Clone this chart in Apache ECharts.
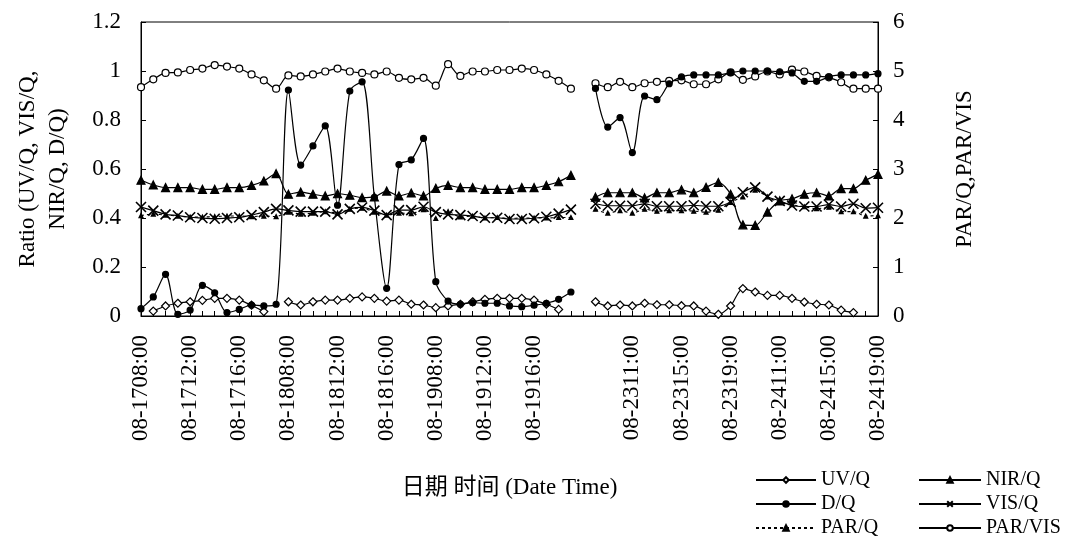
<!DOCTYPE html>
<html><head><meta charset="utf-8">
<script src="https://cdn.jsdelivr.net/npm/echarts@6/dist/echarts.min.js"></script>
<style>html,body{margin:0;padding:0;background:#fff}#c{width:1067px;height:547px}</style>
</head><body><div id="c"></div>
<script>
const days = ['08-17', '08-18', '08-19', '', '08-23', '08-24'];
const hours = ['08:00','09:00','10:00','11:00','12:00','13:00','14:00','15:00','16:00','17:00','18:00','19:00'];

const uvQ = [null,0.020,0.041,0.052,0.058,0.064,0.072,0.072,0.065,0.044,0.018,null,
  0.058,0.045,0.058,0.065,0.065,0.072,0.078,0.072,0.061,0.065,0.048,0.045,
  0.034,0.041,0.048,0.058,0.068,0.072,0.072,0.072,0.065,0.048,0.027,null,
  null,
  0.058,0.041,0.045,0.041,0.052,0.046,0.046,0.042,0.041,0.020,0.007,0.041,
  0.112,0.098,0.084,0.084,0.072,0.057,0.048,0.045,0.024,0.014,null,null];

const dQ = [0.030,0.078,0.170,0.007,0.024,0.125,0.095,0.014,0.027,0.045,0.041,0.048,
  0.922,0.616,0.694,0.776,0.452,0.918,0.956,0.484,0.113,0.618,0.637,0.725,
  0.140,0.061,0.048,0.054,0.052,0.052,0.041,0.038,0.044,0.052,0.068,0.098,
  null,
  0.929,0.771,0.810,0.667,0.898,0.883,0.948,0.976,0.984,0.984,0.984,0.993,
  1.000,1.000,1.000,0.997,0.992,0.958,0.958,0.976,0.984,0.984,0.984,0.989];

const nirQ = [0.554,0.535,0.524,0.524,0.524,0.517,0.517,0.524,0.524,0.533,0.551,0.581,
  0.497,0.506,0.497,0.490,0.499,0.493,0.483,0.486,0.510,0.490,0.502,0.490,
  0.521,0.533,0.524,0.524,0.517,0.517,0.517,0.524,0.524,0.533,0.548,0.574,
  null,
  0.485,0.503,0.503,0.503,0.482,0.503,0.503,0.515,0.503,0.525,0.545,0.497,
  0.372,0.370,0.424,0.470,0.478,0.497,0.503,0.490,0.520,0.520,0.554,0.578];

const visQ = [0.445,0.430,0.415,0.410,0.403,0.400,0.397,0.400,0.403,0.412,0.424,0.437,
  0.431,0.426,0.426,0.426,0.415,0.437,0.443,0.430,0.412,0.432,0.432,0.446,
  0.424,0.415,0.412,0.408,0.401,0.401,0.396,0.396,0.399,0.405,0.418,0.434,
  null,
  0.458,0.450,0.450,0.450,0.458,0.448,0.448,0.448,0.452,0.448,0.448,0.466,
  0.505,0.525,0.487,0.470,0.451,0.447,0.447,0.455,0.447,0.458,0.440,0.442];

const parQ = [2.05,2.08,2.06,2.04,2.02,2.02,2.03,2.04,2.04,2.03,2.04,2.03,
  2.12,2.08,2.10,2.13,2.10,2.18,2.20,2.12,2.06,2.10,2.09,2.17,
  1.99,2.13,2.02,2.04,2.00,2.01,1.99,2.00,2.00,2.00,2.01,2.01,
  null,
  2.18,2.10,2.15,2.10,2.18,2.14,2.15,2.15,2.14,2.12,2.16,2.32,
  2.43,2.57,2.43,2.32,2.27,2.23,2.19,2.22,2.13,2.13,2.04,2.05];

const parVis = [4.67,4.83,4.96,4.97,5.02,5.05,5.12,5.09,5.05,4.93,4.81,4.64,
  4.91,4.89,4.93,4.99,5.05,4.99,4.96,4.93,4.99,4.86,4.83,4.86,
  4.70,5.14,4.90,4.99,4.99,5.02,5.02,5.05,5.02,4.93,4.80,4.64,
  null,
  4.75,4.67,4.78,4.67,4.75,4.78,4.80,4.81,4.73,4.73,4.83,4.97,
  4.82,4.89,4.99,4.93,5.03,4.99,4.90,4.87,4.77,4.64,4.64,4.64];

const leftTicks = {min: 0, max: 1.2, interval: 0.2};
const rightTicks = {min: 0, max: 6, interval: 1};

const categories = [];
days.forEach(d => {
  if (d === '') categories.push('');
  else hours.forEach(h => categories.push(d + h));
});

const SERIF = '"Liberation Serif", "Times New Roman", serif';
const CJK = '"Liberation Serif", "Noto Sans CJK SC", serif';

function mk(name, data, yIdx, symbol, size, fill, extra) {
  return Object.assign({
    name: name, type: 'line', data: data, yAxisIndex: yIdx,
    symbol: symbol, symbolSize: size, showSymbol: true, showAllSymbol: true,
    smooth: 0.3, connectNulls: false,
    lineStyle: {color: '#000', width: 1.2},
    itemStyle: {color: fill, borderColor: '#000', borderWidth: 1.2},
    emphasis: {disabled: true},
    z: 2
  }, extra || {});
}

const xPath = 'path://M0,0L10,10M10,0L0,10';

const series = [
  mk('PAR/Q', parQ, 1, 'triangle', 4, '#000', {lineStyle: {color: '#000', width: 1.1, type: [3, 3]}}),
  mk('VIS/Q', visQ, 0, xPath, 10, 'none', {itemStyle: {color: 'none', borderColor: '#000', borderWidth: 1.6}}),
  mk('NIR/Q', nirQ, 0, 'triangle', 8, '#000'),
  mk('UV/Q', uvQ, 0, 'diamond', 8, '#fff'),
  mk('PAR/VIS', parVis, 1, 'circle', 7, '#fff'),
  mk('D/Q', dQ, 0, 'circle', 6, '#000')
];

const legendText = {fontFamily: SERIF, fontSize: 20, color: '#000'};

const option = {
  animation: false,
  backgroundColor: '#fff',
  grid: {left: 141, right: 189, top: 22, bottom: 231, show: true, borderColor: '#000', borderWidth: 1, backgroundColor: 'transparent'},
  legend: [
    {data: ['UV/Q', 'D/Q', 'PAR/Q'], orient: 'vertical', left: 750, top: 465, itemWidth: 60, itemHeight: 7, itemGap: 4, textStyle: legendText, selectedMode: false},
    {data: ['NIR/Q', 'VIS/Q', 'PAR/VIS'], orient: 'vertical', left: 913, top: 465, itemWidth: 62, itemHeight: 7, itemGap: 4, textStyle: legendText, selectedMode: false}
  ],
  xAxis: {
    type: 'category', data: categories, boundaryGap: false,
    name: '日期 时间 (Date Time)', nameLocation: 'middle', nameGap: 160,
    nameTextStyle: {fontFamily: CJK, fontSize: 23, color: '#000'},
    axisLine: {lineStyle: {color: '#000', width: 1}},
    axisTick: {inside: true, length: 5, interval: 0, lineStyle: {color: '#000'}},
    axisLabel: {interval: 3, rotate: 90, margin: 19, fontFamily: SERIF, fontSize: 23, color: '#000'},
    splitLine: {show: false}
  },
  yAxis: [
    {
      type: 'value', min: leftTicks.min, max: leftTicks.max, interval: leftTicks.interval, position: 'left',
      name: 'Ratio (UV/Q, VIS/Q,\nNIR/Q, D/Q)', nameLocation: 'middle', nameRotate: 90, nameGap: 68,
      nameTextStyle: {fontFamily: SERIF, fontSize: 23, color: '#000', lineHeight: 30},
      axisLine: {show: true, lineStyle: {color: '#000'}},
      axisTick: {show: true, inside: true, length: 5, lineStyle: {color: '#000'}},
      axisLabel: {margin: 20, fontFamily: SERIF, fontSize: 23, color: '#000'},
      splitLine: {show: false}
    },
    {
      type: 'value', min: rightTicks.min, max: rightTicks.max, interval: rightTicks.interval, position: 'right',
      name: 'PAR/Q,PAR/VIS', nameLocation: 'middle', nameRotate: 90, nameGap: 75,
      nameTextStyle: {fontFamily: SERIF, fontSize: 23, color: '#000'},
      axisLine: {show: true, lineStyle: {color: '#000'}},
      axisTick: {show: true, inside: true, length: 5, lineStyle: {color: '#000'}},
      axisLabel: {margin: 15, fontFamily: SERIF, fontSize: 23, color: '#000'},
      splitLine: {show: false}
    }
  ],
  series: series
};

const chart = echarts.init(document.getElementById('c'), null, {renderer: 'canvas'});
chart.setOption(option);
</script>
</body></html>
